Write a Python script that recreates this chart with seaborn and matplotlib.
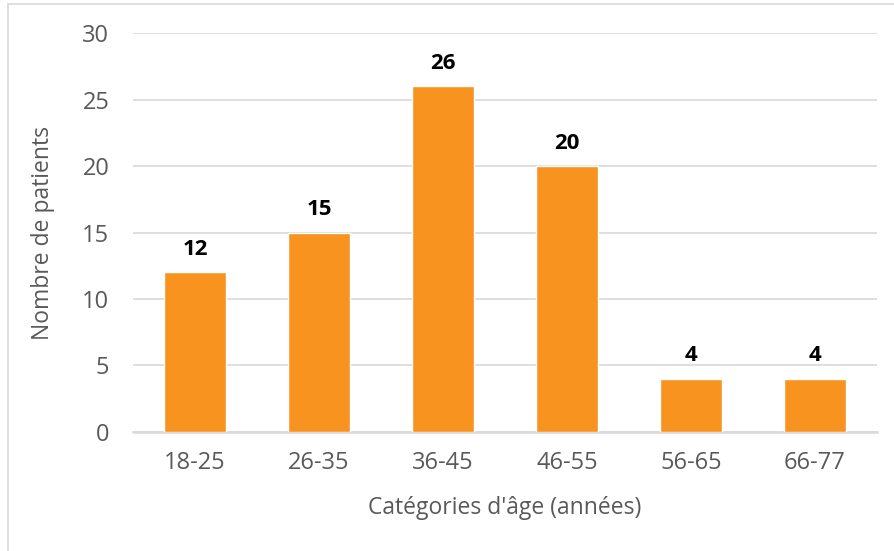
import matplotlib
matplotlib.use("Agg")
import matplotlib.pyplot as plt
import seaborn as sns
import pandas as pd

categories = ["18-25", "26-35", "36-45", "46-55", "56-65", "66-77"]
patients = [12, 15, 26, 20, 4, 4]
yticks = [0, 5, 10, 15, 20, 25, 30]

sns.set_theme(style="white")
plt.rcParams['font.family'] = ['Open Sans', 'DejaVu Sans']

df = pd.DataFrame({"cat": categories, "n": patients})

fig = plt.figure(figsize=(8.94, 5.51), dpi=100)
ax = fig.add_axes([0.1488, 0.216, 0.8322, 0.724])

sns.barplot(data=df, x="cat", y="n", color="#F7931E", saturation=1, width=0.5, ax=ax, zorder=3)

ax.set_ylim(0, 30)
ax.set_yticks(yticks)
ax.yaxis.grid(True, color="#D9D9D9", linewidth=1.2, zorder=0)
ax.set_axisbelow(True)
for s in ["top", "right", "left"]:
    ax.spines[s].set_visible(False)
ax.spines["bottom"].set_color("#D9D9D9")
ax.spines["bottom"].set_linewidth(1.8)
ax.tick_params(axis="both", length=0, labelsize=17, labelcolor="#595959")
ax.tick_params(axis="y", pad=17)
ax.tick_params(axis="x", pad=14)

ax.set_xlabel("Catégories d'âge (années)", fontsize=16.5, color="#595959", labelpad=15)
ax.set_ylabel("Nombre de patients", fontsize=16.5, color="#595959", labelpad=20)

for c in ax.containers:
    ax.bar_label(c, fmt="%d", padding=9, fontsize=16, fontweight="bold", color="black")

# partial frame (left and top) as in screenshot
fig.add_artist(plt.Line2D([0.0095, 0.0095], [0, 0.993], transform=fig.transFigure, color="#D9D9D9", linewidth=1.2))
fig.add_artist(plt.Line2D([0.0095, 1], [0.993, 0.993], transform=fig.transFigure, color="#D9D9D9", linewidth=1.2))

fig.savefig("out.png", dpi=100)
